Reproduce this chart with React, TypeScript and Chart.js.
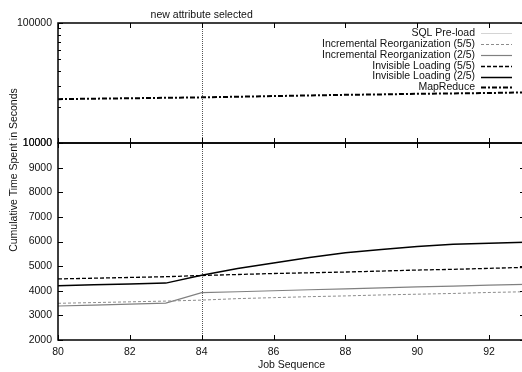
import React, { useEffect, useRef } from 'react';
import { Chart, registerables } from 'chart.js';

Chart.register(...registerables);

const jobs = [80, 81, 82, 83, 84, 85, 86, 87, 88, 89, 90, 91, 92, 93];
const sqlPreload: (number | null)[] = [];
const incr55 = [3490, 3520, 3550, 3580, 3620, 3680, 3720, 3760, 3790, 3830, 3860, 3890, 3930, 3960];
const incr25 = [3380, 3420, 3460, 3500, 3920, 3960, 4000, 4040, 4080, 4120, 4160, 4190, 4230, 4260];
const inv55 = [4480, 4510, 4540, 4570, 4620, 4660, 4700, 4730, 4760, 4800, 4840, 4870, 4910, 4950];
const inv25 = [4200, 4240, 4270, 4310, 4630, 4900, 5130, 5350, 5540, 5680, 5800, 5890, 5930, 5970];
const mapReduce = [23200, 23400, 23600, 23800, 24000, 24300, 24600, 24900, 25200, 25400, 25700, 25900, 26100, 26400];

const xTicks = [80, 82, 84, 86, 88, 90, 92];
const linTicks = [2000, 3000, 4000, 5000, 6000, 7000, 8000, 9000, 10000];
const logTicks = [10000, 20000, 30000, 40000, 50000, 60000, 70000, 80000, 90000, 100000];
const logLabelled = [10000, 100000];
const eventJob = 84;
const eventLabel = 'new attribute selected';
const xTitle = 'Job Sequence';
const yTitle = 'Cumulative Time Spent in Seconds';

const FONT = '"Liberation Sans", Arial, sans-serif';
const FS = 10.5;

const pts = (vals: (number | null)[]) => vals.map((v, i) => ({ x: jobs[i], y: v }));

const gnuPlugin = {
  id: 'gnuFrame',
  beforeDatasetsDraw(chart: any) {
    const { ctx, chartArea, scales } = chart;
    const px = Math.round(scales.x.getPixelForValue(eventJob)) + 0.5;
    ctx.save();
    ctx.strokeStyle = '#555';
    ctx.lineWidth = 1;
    ctx.setLineDash([1, 1]);
    ctx.beginPath();
    ctx.moveTo(px, chartArea.top);
    ctx.lineTo(px, chartArea.bottom);
    ctx.stroke();
    ctx.restore();
  },
  afterDatasetsDraw(chart: any) {
    const { ctx, chartArea, scales } = chart;
    const { left, right } = chartArea;
    const panels = [scales.yLog, scales.yLin];
    ctx.save();
    ctx.strokeStyle = '#000';
    ctx.lineWidth = 1.5;
    ctx.setLineDash([]);
    panels.forEach((s: any) => {
      ctx.strokeRect(left, s.top, right - left, s.bottom - s.top);
    });
    ctx.lineWidth = 1;
    ctx.beginPath();
    panels.forEach((s: any) => {
      xTicks.forEach((v) => {
        const px = Math.round(scales.x.getPixelForValue(v)) + 0.5;
        ctx.moveTo(px, s.top);
        ctx.lineTo(px, s.top + 5);
        ctx.moveTo(px, s.bottom);
        ctx.lineTo(px, s.bottom - 5);
      });
    });
    linTicks.forEach((v) => {
      const py = Math.round(scales.yLin.getPixelForValue(v)) + 0.5;
      ctx.moveTo(left, py);
      ctx.lineTo(left + 5, py);
      ctx.moveTo(right, py);
      ctx.lineTo(right - 5, py);
    });
    logTicks.forEach((v) => {
      const py = Math.round(scales.yLog.getPixelForValue(v)) + 0.5;
      const len = logLabelled.includes(v) ? 5 : 3;
      ctx.moveTo(left, py);
      ctx.lineTo(left + len, py);
      ctx.moveTo(right, py);
      ctx.lineTo(right - len, py);
    });
    ctx.stroke();
    ctx.restore();
  },
  afterDraw(chart: any) {
    const { ctx, chartArea, scales } = chart;
    ctx.save();
    ctx.fillStyle = '#111';
    ctx.font = `${FS}px ${FONT}`;
    ctx.textAlign = 'center';
    ctx.textBaseline = 'alphabetic';
    ctx.fillText(eventLabel, scales.x.getPixelForValue(eventJob), 18);
    ctx.textBaseline = 'middle';
    ctx.fillText(xTitle, (chartArea.left + chartArea.right) / 2, 365);
    ctx.save();
    ctx.translate(14, 170);
    ctx.rotate(-Math.PI / 2);
    ctx.fillText(yTitle, 0, 0);
    ctx.restore();
    const dsets = chart.data.datasets;
    dsets.forEach((ds: any, i: number) => {
      const y = 33.3 + 10.8 * i;
      ctx.fillStyle = '#111';
      ctx.textAlign = 'right';
      ctx.textBaseline = 'middle';
      ctx.fillText(ds.label, 475, y);
      ctx.strokeStyle = ds.borderColor;
      ctx.lineWidth = ds.borderWidth;
      ctx.setLineDash(ds.borderDash || []);
      ctx.beginPath();
      ctx.moveTo(481, Math.round(y) + 0.5);
      ctx.lineTo(512, Math.round(y) + 0.5);
      ctx.stroke();
    });
    ctx.restore();
  },
};

export default function App() {
  const ref = useRef<HTMLCanvasElement | null>(null);
  useEffect(() => {
    document.body.style.margin = '0';
    document.body.style.overflow = 'hidden';
    document.documentElement.style.overflow = 'hidden';
    if (!ref.current) return;
    const common = { pointRadius: 0, tension: 0, fill: false };
    const tickFont = { family: FONT, size: FS };
    const chart = new Chart(ref.current, {
      type: 'line',
      data: {
        datasets: [
          { ...common, label: 'SQL Pre-load', data: pts(sqlPreload), borderColor: '#d4d4d4', borderWidth: 1, yAxisID: 'yLin' },
          { ...common, label: 'Incremental Reorganization (5/5)', data: pts(incr55), borderColor: '#8c8c8c', borderWidth: 1, borderDash: [3, 2], yAxisID: 'yLin' },
          { ...common, label: 'Incremental Reorganization (2/5)', data: pts(incr25), borderColor: '#808080', borderWidth: 1.2, yAxisID: 'yLin' },
          { ...common, label: 'Invisible Loading (5/5)', data: pts(inv55), borderColor: '#000000', borderWidth: 1.3, borderDash: [4, 2], yAxisID: 'yLin' },
          { ...common, label: 'Invisible Loading (2/5)', data: pts(inv25), borderColor: '#000000', borderWidth: 1.5, yAxisID: 'yLin' },
          { ...common, label: 'MapReduce', data: pts(mapReduce), borderColor: '#000000', borderWidth: 2, borderDash: [5, 2, 2, 2], yAxisID: 'yLog' },
        ],
      },
      options: {
        animation: false,
        responsive: false,
        devicePixelRatio: 1,
        layout: { padding: { top: 23, left: 0, right: 0, bottom: 0 } },
        plugins: { legend: { display: false }, tooltip: { enabled: false }, title: { display: false } },
        scales: {
          yLin: {
            type: 'linear',
            position: 'left',
            stack: 'y',
            stackWeight: 197,
            min: 2000,
            max: 10000,
            grid: { display: false, drawTicks: false },
            border: { display: false },
            afterBuildTicks: (s: any) => {
              s.ticks = linTicks.map((v) => ({ value: v }));
            },
            afterFit: (s: any) => { s.width = 58; },
            ticks: {
              autoSkip: false,
              padding: 6,
              color: '#111',
              font: tickFont,
              callback: (v: any) => String(v),
            },
          },
          yLog: {
            type: 'logarithmic',
            position: 'left',
            stack: 'y',
            stackWeight: 120,
            min: 10000,
            max: 100000,
            grid: { display: false, drawTicks: false },
            border: { display: false },
            afterBuildTicks: (s: any) => {
              s.ticks = logTicks.map((v) => ({ value: v, major: logLabelled.includes(v) }));
            },
            afterFit: (s: any) => { s.width = 58; },
            ticks: {
              autoSkip: false,
              padding: 6,
              color: '#111',
              font: tickFont,
              callback: (v: any) => (logLabelled.includes(Number(v)) ? String(v) : ''),
            },
          },
          x: {
            type: 'linear',
            position: 'bottom',
            min: 80,
            max: 93,
            grid: { display: false, drawTicks: false },
            border: { display: false },
            afterBuildTicks: (s: any) => {
              s.ticks = xTicks.map((v) => ({ value: v }));
            },
            afterFit: (s: any) => { s.height = 32; },
            ticks: {
              autoSkip: false,
              maxRotation: 0,
              padding: 6,
              color: '#111',
              font: tickFont,
              callback: (v: any) => String(v),
            },
          },
        },
      },
      plugins: [gnuPlugin],
    } as any);
    return () => chart.destroy();
  }, []);
  return (
    <div style={{ width: 525, height: 372 }}>
      <canvas ref={ref} width={525} height={372} style={{ display: 'block' }} />
    </div>
  );
}
